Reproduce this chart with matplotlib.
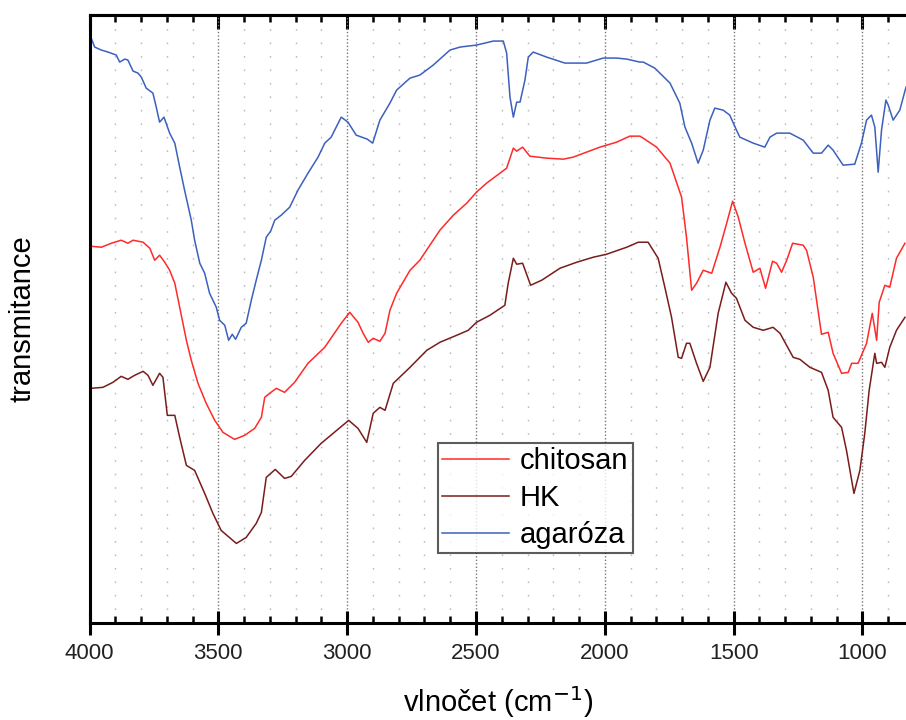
import matplotlib
matplotlib.use("Agg")
import matplotlib.pyplot as plt
from matplotlib.ticker import MultipleLocator

plt.rcParams['font.family'] = ['Liberation Sans', 'DejaVu Sans']

# FTIR spectra, wavenumber (cm-1) and transmittance (arbitrary units, offset traces)
agaroza_wn = [3995, 3980, 3954, 3928, 3896, 3883, 3863, 3851, 3831, 3812, 3799, 3780, 3754, 3741,
              3728, 3711, 3689, 3669, 3650, 3631, 3605, 3592, 3572, 3553, 3534, 3508, 3495, 3475,
              3460, 3446, 3433, 3411, 3392, 3372, 3353, 3333, 3314, 3297, 3281, 3256, 3223, 3191,
              3152, 3113, 3087, 3062, 3023, 2997, 2965, 2922, 2901, 2873, 2834, 2808, 2756, 2718,
              2666, 2601, 2562, 2498, 2433, 2394, 2381, 2368, 2355, 2342, 2329, 2310, 2297, 2278,
              2226, 2155, 2071, 2006, 1954, 1915, 1864, 1851, 1806, 1747, 1709, 1689, 1663, 1638,
              1618, 1592, 1573, 1541, 1515, 1489, 1476, 1424, 1379, 1359, 1333, 1282, 1230, 1191,
              1159, 1133, 1114, 1075, 1030, 1004, 984, 965, 952, 939, 926, 909, 900, 881, 855, 831]
agaroza_t = [585, 575, 572, 570, 567, 560, 563, 562, 551, 549, 545, 534, 529, 515,
             500, 505, 489, 479, 455, 432, 402, 382, 359, 349, 329, 315, 302, 297,
             282, 288, 283, 295, 299, 322, 342, 362, 385, 391, 402, 407, 415, 432,
             449, 465, 479, 485, 505, 500, 487, 483, 479, 502, 519, 532, 544, 547,
             557, 572, 575, 577, 581, 581, 569, 525, 505, 520, 520, 542, 565, 570,
             565, 559, 559, 564, 564, 563, 560, 560, 554, 539, 519, 495, 479, 459,
             472, 502, 514, 512, 507, 492, 485, 479, 475, 485, 489, 489, 482, 469,
             469, 477, 472, 457, 458, 479, 502, 507, 495, 450, 492, 522, 517, 502, 512, 535]

chitosan_wn = [3995, 3954, 3915, 3877, 3851, 3831, 3792, 3766, 3747, 3728, 3708, 3689, 3669, 3650,
               3624, 3605, 3579, 3547, 3514, 3482, 3437, 3398, 3359, 3333, 3320, 3301, 3275, 3243,
               3204, 3152, 3087, 3023, 2990, 2958, 2938, 2918, 2899, 2873, 2853, 2834, 2808, 2756,
               2718, 2679, 2640, 2588, 2536, 2498, 2459, 2407, 2381, 2355, 2342, 2319, 2291, 2226,
               2161, 2123, 2071, 2019, 1954, 1903, 1864, 1851, 1799, 1747, 1702, 1683, 1663, 1644,
               1618, 1585, 1553, 1527, 1504, 1482, 1456, 1424, 1398, 1376, 1349, 1333, 1314, 1294,
               1271, 1230, 1217, 1191, 1159, 1133, 1114, 1081, 1055, 1042, 1017, 984, 962, 945,
               935, 913, 894, 868, 835]
chitosan_t = [376, 375, 379, 382, 379, 382, 380, 374, 362, 367, 360, 352, 339, 315,
              282, 262, 239, 219, 202, 190, 183, 187, 194, 205, 225, 229, 234, 230,
              240, 259, 275, 299, 310, 300, 289, 280, 284, 281, 289, 312, 329, 352,
              362, 377, 392, 407, 419, 430, 439, 449, 454, 474, 471, 475, 466, 464,
              463, 465, 470, 475, 480, 486, 486, 484, 475, 459, 425, 385, 332, 339,
              352, 349, 375, 399, 421, 405, 379, 350, 354, 334, 361, 359, 350, 362,
              379, 377, 372, 345, 288, 290, 269, 249, 250, 259, 259, 279, 309, 282,
              320, 337, 335, 364, 379]

hk_wn = [3995, 3948, 3909, 3877, 3851, 3825, 3792, 3773, 3754, 3728, 3715, 3698, 3669, 3650,
         3624, 3592, 3553, 3521, 3489, 3430, 3392, 3353, 3333, 3314, 3279, 3243, 3217, 3165,
         3101, 3036, 2994, 2958, 2924, 2899, 2873, 2853, 2821, 2756, 2691, 2640, 2575, 2530,
         2498, 2446, 2388, 2375, 2355, 2342, 2319, 2288, 2245, 2174, 2109, 2045, 1993, 1915,
         1870, 1832, 1793, 1767, 1741, 1715, 1702, 1683, 1670, 1644, 1618, 1592, 1560, 1530,
         1508, 1489, 1456, 1424, 1385, 1347, 1320, 1269, 1243, 1204, 1159, 1133, 1114, 1081,
         1062, 1033, 1010, 991, 974, 952, 945, 926, 913, 894, 868, 835]
hk_t = [234, 235, 240, 246, 243, 247, 251, 247, 237, 249, 245, 207, 207, 185,
        157, 152, 129, 109, 92, 79, 85, 99, 110, 145, 153, 144, 146, 162,
        179, 193, 202, 194, 180, 209, 215, 212, 239, 255, 272, 280, 287, 292,
        300, 307, 317, 339, 364, 358, 359, 337, 342, 354, 360, 365, 368, 375,
        380, 380, 364, 335, 305, 265, 264, 279, 279, 259, 241, 255, 309, 340,
        329, 324, 302, 295, 292, 295, 289, 265, 263, 255, 250, 232, 205, 195,
        172, 129, 152, 189, 232, 269, 259, 260, 255, 275, 292, 305]

series = [("chitosan", chitosan_wn, chitosan_t, "#ff2a2a"),
          ("HK", hk_wn, hk_t, "#7a1c1c"),
          ("agaróza", agaroza_wn, agaroza_t, "#3c60bd")]

fig = plt.figure(figsize=(9.06, 7.2), dpi=100)
ax = fig.add_axes([0.0988, 0.1354, 0.9012, 0.8444])

for name, wn, t, col in series:
    ax.plot(wn, t, color=col, lw=1.1, label=name)

ax.set_xlim(4000, 831)
ax.set_ylim(0, 607.5)

ax.xaxis.set_major_locator(MultipleLocator(500))
ax.xaxis.set_minor_locator(MultipleLocator(100))
ax.grid(which='major', axis='x', color='#777777', lw=1.0, linestyle=(0, (1, 1.5)))
ax.grid(which='minor', axis='x', color='#bbbbbb', lw=1.0, linestyle=(0, (1.2, 8.5)))
ax.set_axisbelow(True)

ax.set_yticks([])
for s in ['left', 'bottom', 'top']:
    ax.spines[s].set_linewidth(2.2)
ax.spines['right'].set_visible(False)

ax.tick_params(axis='x', which='major', direction='inout', length=17, width=2.2,
               labelsize=16, labelcolor='#222222', pad=6)
ax.tick_params(axis='x', which='minor', direction='in', length=5, width=1.8)

top = ax.secondary_xaxis('top')
top.xaxis.set_major_locator(MultipleLocator(500))
top.xaxis.set_minor_locator(MultipleLocator(100))
top.tick_params(which='major', direction='in', length=10, width=2.2, labeltop=False)
top.tick_params(which='minor', direction='in', length=5, width=1.8)
top.spines['top'].set_linewidth(2.2)

ax.set_xlabel("vlnočet (cm$^{-1}$)", fontsize=21, labelpad=15)
ax.set_ylabel("transmitance", fontsize=21, labelpad=38)

leg = ax.legend(loc='upper left', bbox_to_anchor=(438 / 906, 1 - 443 / 720),
                bbox_transform=fig.transFigure, borderaxespad=0, fontsize=21,
                frameon=True, fancybox=False, handlelength=2.3, handletextpad=0.35,
                labelspacing=0.3, borderpad=0.15)
leg.get_frame().set_edgecolor('#333333')
leg.get_frame().set_linewidth(1.5)

fig.savefig("out.png", dpi=100)
